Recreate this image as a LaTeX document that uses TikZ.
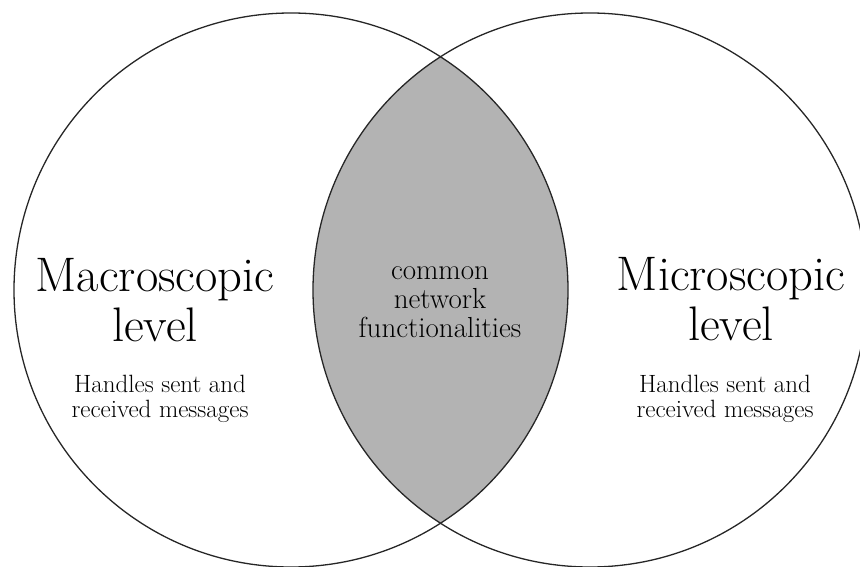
\documentclass[tikz,border=0pt]{standalone}
\begin{document}
\begin{tikzpicture}[x=1pt,y=-1pt,
  ring/.style={draw=black!85, line width=1.3pt},
  bigtxt/.style={anchor=base, inner sep=0pt, font=\fontsize{48.5}{50}\selectfont},
  smalltxt/.style={anchor=base, inner sep=0pt, font=\fontsize{25}{25}\selectfont},
  midtxt/.style={anchor=base, inner sep=0pt, font=\fontsize{29}{29}\selectfont}]
\useasboundingbox (0,0) rectangle (860,567);
\definecolor{lensgray}{RGB}{179,179,179}
\begin{scope}
  \clip (291,290) circle [radius=277];
  \fill[lensgray] (590,290) circle [radius=277];
\end{scope}
\begin{scope}
  \clip (0,0) rectangle (860,567);
  \draw[ring] (291,290) circle [radius=277];
  \draw[ring] (590,290) circle [radius=277];
\end{scope}
\node[bigtxt] (mac1) at (155,291.5) {Macroscopic};
\node[bigtxt] (mac2) at (155,341.5) {level};
\node[smalltxt] (mach1) at (160,392.5) {Handles sent and};
\node[smalltxt] (mach2) at (160,417.5) {received messages};
\node[bigtxt] (mic1) at (731,290.5) {Microscopic};
\node[bigtxt] (mic2) at (731,340.5) {level};
\node[smalltxt] (mich1) at (725,392.5) {Handles sent and};
\node[smalltxt] (mich2) at (725,417.5) {received messages};
\node[midtxt] (com1) at (440,279) {common};
\node[midtxt] (com2) at (440,308) {network};
\node[midtxt] (com3) at (440,337) {functionalities};
\end{tikzpicture}
\end{document}
